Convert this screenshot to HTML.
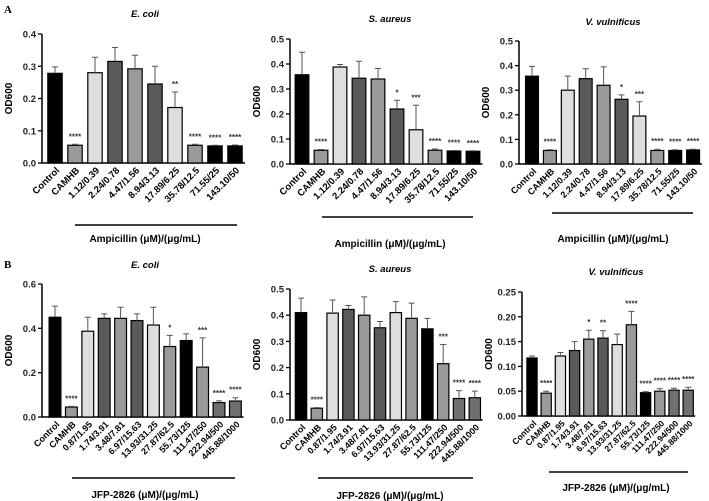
<!DOCTYPE html>
<html><head><meta charset="utf-8"><style>
html,body{margin:0;padding:0;background:#fff;}
svg{display:block;font-family:"Liberation Sans",Arial,sans-serif;}
</style></head><body>
<svg id="fig" width="709" height="501" viewBox="0 0 709 501">
<text x="4" y="13" font-family="Liberation Serif" font-size="11" font-weight="bold">A</text>
<text x="4" y="268" font-family="Liberation Serif" font-size="11" font-weight="bold">B</text>
</svg>
<script>
const ampCats = ["Control","CAMHB","1.12/0.39","2.24/0.78","4.47/1.56","8.94/3.13","17.89/6.25","35.78/12.5","71.55/25","143.10/50"];
const jfpCats = ["Control","CAMHB","0.87/1.95","1.74/3.91","3.48/7.81","6.97/15.63","13.93/31.25","27.87/62.5","55.73/125","111.47/250","222.94/500","445.88/1000"];

const aEcoliValues = [0.278,0.055,0.280,0.315,0.292,0.245,0.172,0.055,0.053,0.053];
const aEcoliErrors = [0.020,0.003,0.048,0.043,0.042,0.055,0.048,0.003,0.002,0.003];
const aEcoliStars = ["","****","","","","","**","****","****","****"];
const aEcoliTicks = [0,0.1,0.2,0.3,0.4];

const aSaureusValues = [0.357,0.055,0.388,0.343,0.340,0.220,0.137,0.055,0.052,0.051];
const aSaureusErrors = [0.090,0.003,0.010,0.068,0.042,0.035,0.098,0.005,0.002,0.002];
const aSaureusStars = ["","****","","","","*","***","****","****","****"];
const aSaureusTicks = [0,0.1,0.2,0.3,0.4,0.5];

const aVvulValues = [0.357,0.055,0.300,0.347,0.320,0.263,0.195,0.055,0.055,0.057];
const aVvulErrors = [0.040,0.003,0.057,0.040,0.075,0.018,0.058,0.005,0.003,0.003];
const aVvulStars = ["","****","","","","*","***","****","****","****"];
const aVvulTicks = [0,0.1,0.2,0.3,0.4,0.5];

const bEcoliValues = [0.450,0.045,0.387,0.445,0.445,0.435,0.415,0.318,0.345,0.225,0.065,0.072];
const bEcoliErrors = [0.050,0.003,0.063,0.020,0.050,0.030,0.080,0.050,0.030,0.132,0.008,0.015];
const bEcoliStars = ["","****","","","","","","*","","***","****","****"];
const bEcoliTicks = [0,0.2,0.4,0.6];

const bSaureusValues = [0.410,0.045,0.408,0.422,0.400,0.352,0.410,0.388,0.348,0.215,0.082,0.085];
const bSaureusErrors = [0.055,0.002,0.050,0.015,0.070,0.024,0.042,0.058,0.040,0.073,0.030,0.025];
const bSaureusStars = ["","****","","","","","","","","***","****","****"];
const bSaureusTicks = [0,0.1,0.2,0.3,0.4,0.5];

const bVvulValues = [0.117,0.046,0.121,0.132,0.155,0.157,0.144,0.184,0.047,0.050,0.052,0.052];
const bVvulErrors = [0.004,0.004,0.007,0.018,0.018,0.015,0.021,0.027,0.002,0.005,0.004,0.006];
const bVvulStars = ["","****","","","*","**","","****","****","****","****","****"];
const bVvulTicks = [0,0.05,0.10,0.15,0.20,0.25];

const ampFills = ["#000","#9a9a9a","#dedede","#5a5a5a","#9a9a9a","#5a5a5a","#dedede","#9a9a9a","#000","#000"];
const jfpFills = ["#000","#9a9a9a","#dedede","#5a5a5a","#9a9a9a","#5a5a5a","#dedede","#9a9a9a","#000","#9a9a9a","#707070","#707070"];

const NS = "http://www.w3.org/2000/svg";
const svg = document.getElementById("fig");
function mk(tag, attrs, parent, text) {
  const e = document.createElementNS(NS, tag);
  for (const k in attrs) e.setAttribute(k, attrs[k]);
  if (text !== undefined) e.textContent = text;
  parent.appendChild(e);
  return e;
}

function panel(id, title, cats, vals, errs, stars, ticks, fills, dec, L) {
  const g = mk("g", {}, svg);
  
  
  const ymax = ticks[ticks.length - 1];
  const yS = v => L.y0 - (v / ymax) * (L.y0 - L.yTop);
  const xS = i => L.x0 + i * L.step;
  const bw = L.step * 0.72;
  const t = mk("text", {x: L.tx, y: L.ty, "font-size": 9.5, "font-weight": "bold", "font-style": "italic", "text-anchor": "middle"}, g, title);
  
  
  const ax = mk("line", {x1: L.ax, x2: L.ax, y1: L.yTop, y2: L.y0, stroke: "#000", "stroke-width": 1.5}, g);
  
  
  ticks.forEach(tv => {
    const y = yS(tv);
    const tl = mk("line", {x1: L.ax - 4, x2: L.ax, y1: y, y2: y, stroke: "#000", "stroke-width": 1.3}, g);
    
    
    const tt = mk("text", {x: L.ax - 6, y: y + 3.5, "font-size": 9.5, "font-weight": "bold", "text-anchor": "end", fill: "#222"}, g, tv.toFixed(dec));
    
    
  });
  const yt = mk("text", {x: 0, y: 0, "font-size": 10, "font-weight": "bold", "text-anchor": "middle",
    transform: `translate(${L.ax - 30},${(L.yTop + L.y0) / 2}) rotate(-90)`}, g, "OD600");
  
  
  const xa = mk("line", {x1: L.ax, x2: xS(cats.length - 1) + L.step / 2, y1: L.y0, y2: L.y0, stroke: "#000", "stroke-width": 1.5}, g);
  
  
  cats.forEach((c, i) => {
    const cx = xS(i);
    const v = vals[i], e = errs[i];
    const b = mk("rect", {x: cx - bw / 2, y: yS(v), width: bw, height: L.y0 - yS(v), fill: fills[i], stroke: "#000", "stroke-width": 1.2}, g);
    
    
    const eb = mk("path", {d: `M${cx},${yS(v)}V${yS(v + e)}M${cx - 3},${yS(v + e)}H${cx + 3}`, stroke: "#555", "stroke-width": 1, fill: "none"}, g);
    
    
    if (stars[i]) {
      const s = mk("text", {x: cx, y: yS(v + e) - 5, "font-size": 8, "font-weight": "bold", "text-anchor": "middle", fill: "#333"}, g, stars[i]);
      
      
    }
    const xl = mk("text", {x: 0, y: 0, "font-size": L.xfs, "font-weight": "bold", "text-anchor": "end",
      transform: `translate(${cx + 5},${L.y0 + 8}) rotate(-45)`}, g, c);
    
    
  });
  const ul = mk("line", {x1: L.ux1, x2: L.ux2, y1: L.uy, y2: L.uy, stroke: "#000", "stroke-width": 1.5}, g);
  
  
  const xt = mk("text", {x: L.tx, y: L.xly, "font-size": 10, "font-weight": "bold", "text-anchor": "middle"}, g, L.xlabel);
  
  
}

panel("a-ecoli", "E. coli", ampCats, aEcoliValues, aEcoliErrors, aEcoliStars, aEcoliTicks, ampFills, 1,
  {ax: 42, yTop: 34, y0: 163, x0: 55, step: 20, xfs: 9.5, tx: 145, ty: 17, ux1: 75, ux2: 237, uy: 225, xly: 242, xlabel: "Ampicillin (μM)/(μg/mL)"});
panel("a-saureus", "S. aureus", ampCats, aSaureusValues, aSaureusErrors, aSaureusStars, aSaureusTicks, ampFills, 1,
  {ax: 290, yTop: 39, y0: 164, x0: 302, step: 19, xfs: 9.5, tx: 390, ty: 22, ux1: 322, ux2: 473, uy: 217, xly: 247, xlabel: "Ampicillin (μM)/(μg/mL)"});
panel("a-vvulnificus", "V. vulnificus", ampCats, aVvulValues, aVvulErrors, aVvulStars, aVvulTicks, ampFills, 1,
  {ax: 519, yTop: 41, y0: 164, x0: 532, step: 17.9, xfs: 9, tx: 613, ty: 25, ux1: 552, ux2: 693, uy: 213, xly: 242, xlabel: "Ampicillin (μM)/(μg/mL)"});
panel("b-ecoli", "E. coli", jfpCats, bEcoliValues, bEcoliErrors, bEcoliStars, bEcoliTicks, jfpFills, 1,
  {ax: 42, yTop: 284, y0: 417, x0: 55, step: 16.4, xfs: 9, tx: 145, ty: 268, ux1: 72, ux2: 235, uy: 478, xly: 498, xlabel: "JFP-2826 (μM)/(μg/mL)"});
panel("b-saureus", "S. aureus", jfpCats, bSaureusValues, bSaureusErrors, bSaureusStars, bSaureusTicks, jfpFills, 1,
  {ax: 290, yTop: 289, y0: 420, x0: 301, step: 15.8, xfs: 9, tx: 390, ty: 272, ux1: 318, ux2: 473, uy: 478, xly: 499, xlabel: "JFP-2826 (μM)/(μg/mL)"});
panel("b-vvulnificus", "V. vulnificus", jfpCats, bVvulValues, bVvulErrors, bVvulStars, bVvulTicks, jfpFills, 2,
  {ax: 522, yTop: 292, y0: 416, x0: 532, step: 14.2, xfs: 8.5, tx: 616, ty: 275, ux1: 549, ux2: 688, uy: 472, xly: 491, xlabel: "JFP-2826 (μM)/(μg/mL)"});
</script>
</body></html>
